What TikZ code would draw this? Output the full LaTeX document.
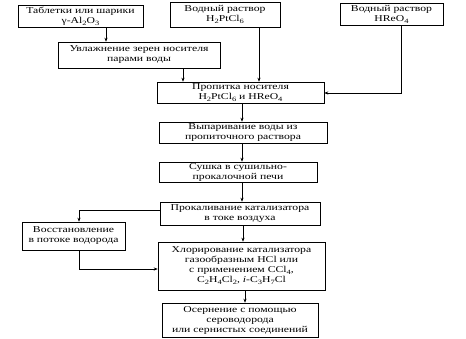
\documentclass[tikz,border=0pt]{standalone}
\usepackage{fontspec}
\setmainfont{Liberation Serif}[FakeStretch=1.3]
\usetikzlibrary{arrows.meta}
\newcommand{\lowi}[1]{\raisebox{-0.45ex}{\fontsize{6.5}{7}\selectfont #1}}
\tikzset{
  box/.style={draw, line width=0.6pt, align=center, inner sep=1pt,
    font=\fontsize{9}{10}\selectfont},
  arr/.style={line width=0.6pt, -{Stealth[length=4pt,width=3.2pt]}},
  ln/.style={line width=0.6pt}
}
\begin{document}
\begin{tikzpicture}[x=1pt,y=-1pt]
\useasboundingbox[fill=white] (0,0) rectangle (466,338);
\node[box, minimum width=125pt, minimum height=22pt] (b1) at (80.5,16) {Таблетки или шарики\\γ-Al\lowi{2}O\lowi{3}};
\node[box, minimum width=110pt, minimum height=25pt] (b2) at (225,14.5) {Водный раствор\\H\lowi{2}PtCl\lowi{6}};
\node[box, minimum width=103pt, minimum height=22pt] (b3) at (391.5,14) {Водный раствор\\HReO\lowi{4}};
\node[box, minimum width=162pt, minimum height=26pt] (b4) at (139,55) {Увлажнение зерен носителя\\парами воды};
\node[box, minimum width=167pt, minimum height=21pt] (b5) at (240.5,92.5) {Пропитка носителя\\H\lowi{2}PtCl\lowi{6} и HReO\lowi{4}};
\node[box, minimum width=168pt, minimum height=21pt] (b6) at (243,132.5) {Выпаривание воды из\\пропиточного раствора};
\node[box, minimum width=158pt, minimum height=20pt] (b7) at (238,172) {Сушка в сушильно-\\прокалочной печи};
\node[box, minimum width=160pt, minimum height=23pt] (b8) at (240,213.5) {Прокаливание катализатора\\в токе воздуха};
\node[box, minimum width=103pt, minimum height=28pt] (b9) at (73.5,236) {Восстановление\\в потоке водорода};
\node[box, minimum width=167pt, minimum height=48pt] (b10) at (241.5,266) {Хлорирование катализатора\\газообразным HCl или\\с применением CCl\lowi{4},\\C\lowi{2}H\lowi{4}Cl\lowi{2}, \textit{i}-C\lowi{3}H\lowi{7}Cl};
\node[box, minimum width=156pt, minimum height=34pt] (b11) at (240,320) {Осернение с помощью\\сероводорода\\или сернистых соединений};

\draw[arr] (106,0 |- b1.south) -- (106,0 |- b4.north);
\draw[arr] (183,0 |- b4.south) -- (183,0 |- b5.north);
\draw[arr] (259,0 |- b2.south) -- (259,0 |- b5.north);
\draw[arr] (401,0 |- b3.south) -- (401,93) -- (b5.east |- 0,93);
\draw[arr] (242,0 |- b5.south) -- (242,0 |- b6.north);
\draw[arr] (242,0 |- b6.south) -- (242,0 |- b7.north);
\draw[arr] (242,0 |- b7.south) -- (242,0 |- b8.north);
\draw[arr] (243,0 |- b8.south) -- (243,0 |- b10.north);
\draw[arr] (b8.west |- 0,210) -- (79,210) -- (79,0 |- b9.north);
\draw[arr] (79,0 |- b9.south) -- (79,269) -- (b10.west |- 0,269);
\draw[arr] (245,0 |- b10.south) -- (245,0 |- b11.north);
\end{tikzpicture}
\end{document}
